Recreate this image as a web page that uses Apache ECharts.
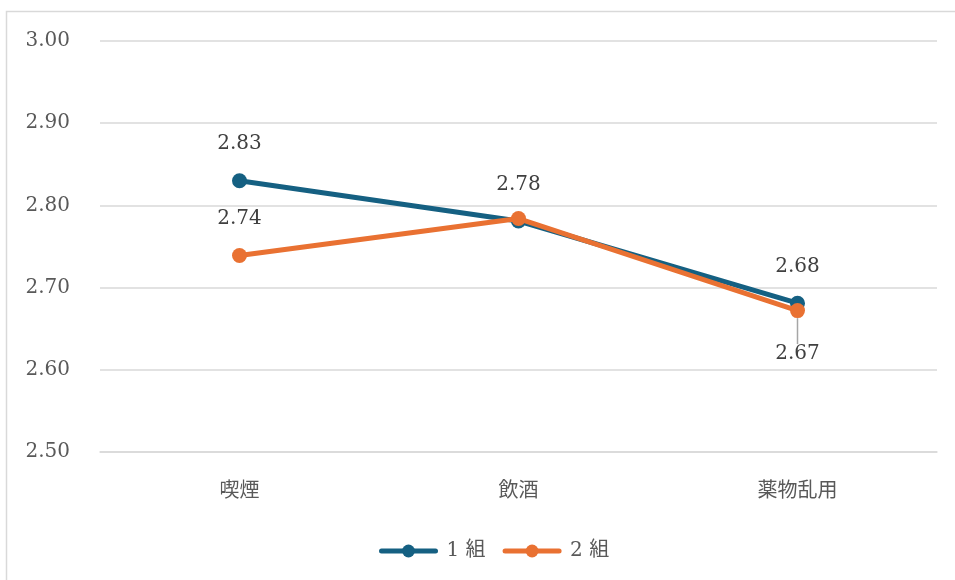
<!DOCTYPE html>
<html>
<head>
<meta charset="utf-8">
<script src="https://cdn.jsdelivr.net/npm/echarts@6/dist/echarts.min.js"></script>
<style>
  html, body { margin: 0; padding: 0; background: #fff; }
  #chart { width: 955px; height: 580px; }
</style>
</head>
<body>
<div id="chart"></div>
<script>
// Categories and mean scores per group
const categories = ['喫煙', '飲酒', '薬物乱用'];
const group1 = [2.83, 2.781, 2.681];
const group2 = [2.739, 2.784, 2.672];
const seriesNames = ['1 組', '2 組'];
const yTicks = { min: 2.5, max: 3.0, interval: 0.1 };

const numFont = '"DejaVu Serif", "Noto Sans CJK JP", serif';
const textColor = '#595959';
const labelStyle = { fontFamily: numFont, fontSize: 20, color: '#404040' };

const chart = echarts.init(document.getElementById('chart'));

chart.setOption({
  backgroundColor: '#fff',
  animation: false,
  graphic: [{
    type: 'rect',
    shape: { x: 6.5, y: 11.5, width: 1000, height: 1000 },
    style: { fill: 'none', stroke: '#d9d9d9', lineWidth: 1.5 },
    silent: true
  }],
  grid: { left: 100, right: 18, top: 41, bottom: 128, containLabel: false },
  legend: {
    data: seriesNames,
    bottom: 14,
    left: 374,
    itemWidth: 54,
    itemHeight: 16,
    itemGap: 17,
    lineStyle: { width: 5, cap: 'round' },
    textStyle: { fontFamily: numFont, fontSize: 20, color: textColor, padding: [0, 0, 0, 6] }
  },
  xAxis: {
    type: 'category',
    data: categories,
    boundaryGap: true,
    axisLine: { show: true, lineStyle: { color: '#d9d9d9', width: 1.5 } },
    axisTick: { show: false },
    axisLabel: {
      margin: 27,
      fontFamily: '"Noto Sans CJK JP", serif',
      fontSize: 20,
      color: textColor
    }
  },
  yAxis: {
    type: 'value',
    min: yTicks.min,
    max: yTicks.max,
    interval: yTicks.interval,
    axisLine: { show: false },
    axisTick: { show: false },
    splitLine: { lineStyle: { color: '#d9d9d9', width: 1.5 } },
    axisLabel: {
      margin: 30,
      fontFamily: numFont,
      fontSize: 20,
      color: textColor,
      formatter: v => v.toFixed(2)
    }
  },
  series: [
    {
      name: seriesNames[0],
      type: 'line',
      data: group1,
      color: '#156082',
      symbol: 'circle',
      symbolSize: 15,
      lineStyle: { width: 5 },
      z: 2,
      label: {
        show: true,
        position: 'top',
        distance: 19,
        ...labelStyle,
        formatter: p => p.value.toFixed(2)
      },
      emphasis: { disabled: true }
    },
    {
      name: seriesNames[1],
      type: 'line',
      data: group2.map((v, i) => {
        if (i === 1) return { value: v, label: { show: false } };
        if (i === 2) {
          return {
            value: v,
            label: { position: 'bottom', distance: 4 },
            labelLine: { show: true, lineStyle: { color: '#a6a6a6', width: 1.5 } }
          };
        }
        return v;
      }),
      color: '#E97132',
      symbol: 'circle',
      symbolSize: 15,
      lineStyle: { width: 5 },
      z: 3,
      label: {
        show: true,
        position: 'top',
        distance: 19,
        ...labelStyle,
        formatter: p => p.value.toFixed(2)
      },
      labelLayout: p => (p.dataIndex === 2 ? { dy: 22 } : {}),
      labelLine: { show: false },
      emphasis: { disabled: true }
    }
  ]
});
</script>
</body>
</html>
